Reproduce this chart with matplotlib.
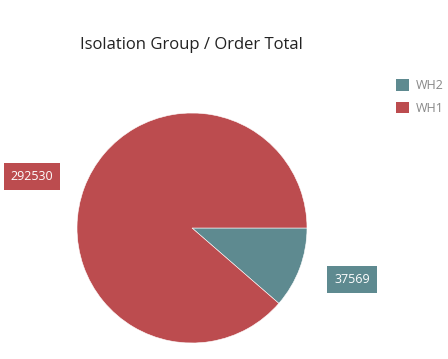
import numpy as np
import matplotlib
matplotlib.use("Agg")
import matplotlib.pyplot as plt

categories = ["WH2", "WH1"]
values = [37569, 292530]
colors = ["#5E8A90", "#BC4C4F"]
title = "Isolation Group / Order Total"

plt.rcParams['font.family'] = ['Open Sans', 'DejaVu Sans']

W, H = 448, 359
fig = plt.figure(figsize=(W / 100, H / 100), dpi=100)
cx, cy, r = 192, 228, 115
ax = fig.add_axes([(cx - r) / W, 1 - (cy + r) / H, 2 * r / W, 2 * r / H])
wedges, _ = ax.pie(values, colors=colors, startangle=0, counterclock=False,
                   radius=1, wedgeprops=dict(edgecolor="white", linewidth=0.4))
ax.set_xlim(-1, 1)
ax.set_ylim(-1, 1)
ax.set_aspect("equal")
ax.axis("off")

for w, v, c in zip(wedges, values, colors):
    mid = np.deg2rad((w.theta1 + w.theta2) / 2 + 2.75)
    x, y = 1.46 * np.cos(mid), 1.46 * np.sin(mid)
    ax.text(x, y, str(v), ha="center", va="center", color="white", fontsize=9,
            bbox=dict(boxstyle="square,pad=0.55", facecolor=c, edgecolor="none"),
            clip_on=False)

fig.text(191 / W, 1 - 45 / H, title, ha="center", va="center", fontsize=12, color="#222222")

handles = [plt.Rectangle((0, 0), 1, 1, facecolor=c) for c in colors]
leg = fig.legend(handles, categories, loc="upper left", bbox_to_anchor=(385 / W, 1 - 68 / H),
                 frameon=False, fontsize=9, handlelength=1.0, handleheight=1.0,
                 handletextpad=0.6, labelspacing=0.75, labelcolor="#888888")

fig.savefig("out.png", dpi=100, facecolor="white")
